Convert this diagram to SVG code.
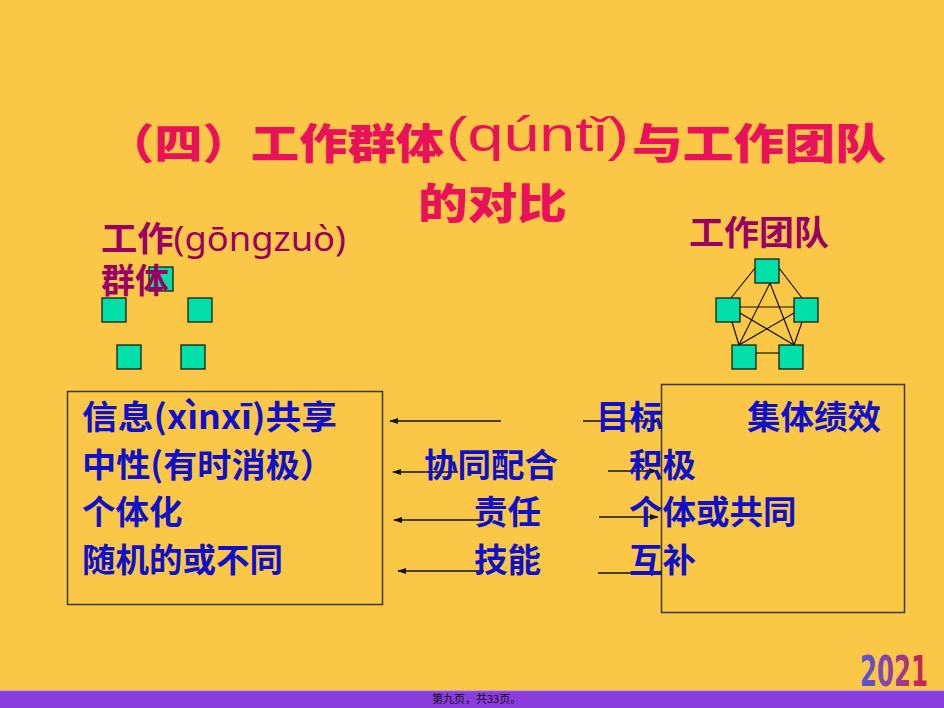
<svg xmlns="http://www.w3.org/2000/svg" width="944" height="708" viewBox="0 0 944 708">
<defs>
<style>
.t{font-family:"Noto Sans CJK SC","Noto Sans",sans-serif;font-weight:900;fill:#E8115A;font-size:42px}
.py{font-family:"Liberation Sans","Noto Sans",sans-serif;font-weight:normal;fill:#E8115A;font-size:48px}
.h{font-family:"Noto Sans CJK SC","Noto Sans",sans-serif;font-weight:600;fill:#990066;font-size:34px}
.hp{font-family:"Noto Sans","Liberation Sans",sans-serif;font-weight:normal;fill:#990066}
.b{font-family:"Noto Sans CJK SC","Noto Sans",sans-serif;font-weight:700;fill:#1010C8;font-size:33.5px}
.sq{fill:#00E0A8;stroke:#1a1a1a;stroke-width:1.3}
.ln{stroke:#111;stroke-width:1.2;fill:none}
.ar{stroke:#111;stroke-width:1.3;fill:none}
.box{fill:none;stroke:#3a3a1a;stroke-width:1.5}
</style>
<marker id="ah" viewBox="0 0 10 10" refX="9" refY="5" markerWidth="9" markerHeight="9" markerUnits="userSpaceOnUse" orient="auto">
<path d="M0,1.5 L10,5 L0,8.5 Z" fill="#111"/>
</marker>
<linearGradient id="yr" x1="0" y1="0" x2="1" y2="0">
<stop offset="0" stop-color="#5058D0"/>
<stop offset="0.5" stop-color="#9040A0"/>
<stop offset="1" stop-color="#D02040"/>
</linearGradient>
</defs>
<rect x="0" y="0" width="944" height="708" fill="#FAC846"/>
<rect x="0" y="691" width="944" height="17" fill="#8A3CDC"/>
<rect x="0" y="690" width="944" height="1.2" fill="#C0A0D0"/>

<g id="title">
<text class="t" x="106" y="159" textLength="338" lengthAdjust="spacingAndGlyphs">（四）工作群体</text>
<text class="py" x="446" y="151" textLength="183" lengthAdjust="spacingAndGlyphs">(qúntǐ)</text>
<text class="t" x="632" y="159" textLength="254" lengthAdjust="spacingAndGlyphs">与工作团队</text>
<text class="t" x="418" y="219" textLength="149" lengthAdjust="spacingAndGlyphs">的对比</text>
</g>

<g id="group-members">
<rect class="sq" x="149" y="267" width="24" height="24"/>
<rect class="sq" x="102" y="298" width="24" height="24"/>
<rect class="sq" x="188" y="298" width="24" height="24"/>
<rect class="sq" x="117" y="345" width="24" height="24"/>
<rect class="sq" x="181" y="345" width="24" height="24"/>
</g>

<g id="group-label">
<text class="h" x="101" y="251" textLength="245" lengthAdjust="spacingAndGlyphs">工作<tspan class="hp">(gōngzuò)</tspan></text>
<text class="h" x="101" y="293">群体</text>
</g>
<g id="team-label">
<text class="h" x="689" y="245" textLength="140" lengthAdjust="spacingAndGlyphs">工作团队</text>
</g>

<g id="connectors">
<g id="team-links">
<line class="ln" x1="755" y1="268" x2="731" y2="298"/>
<line class="ln" x1="779" y1="268" x2="802" y2="298"/>
<line class="ln" x1="770" y1="283" x2="739" y2="345"/>
<line class="ln" x1="770" y1="283" x2="794" y2="345"/>
<line class="ln" x1="740" y1="307" x2="794" y2="307"/>
<line class="ln" x1="740" y1="313" x2="794" y2="345"/>
<line class="ln" x1="794" y1="313" x2="739" y2="345"/>
<line class="ln" x1="732" y1="322" x2="739" y2="345"/>
<line class="ln" x1="802" y1="322" x2="794" y2="345"/>
<line class="ln" x1="756" y1="353" x2="779" y2="353"/>
</g>
<line class="ar" x1="501" y1="421" x2="390" y2="421" marker-end="url(#ah)"/>
<line class="ar" x1="583" y1="421" x2="659" y2="421" marker-end="url(#ah)"/>
<line class="ar" x1="458" y1="472" x2="393" y2="472" marker-end="url(#ah)"/>
<line class="ar" x1="608" y1="471" x2="657" y2="471" marker-end="url(#ah)"/>
<line class="ar" x1="484" y1="520" x2="394" y2="520" marker-end="url(#ah)"/>
<line class="ar" x1="599" y1="517" x2="658" y2="517" marker-end="url(#ah)"/>
<line class="ar" x1="484" y1="571" x2="398" y2="571" marker-end="url(#ah)"/>
<line class="ar" x1="598" y1="573" x2="659" y2="573" marker-end="url(#ah)"/>
</g>

<g id="team-members">
<rect class="sq" x="755" y="259" width="24" height="24"/>
<rect class="sq" x="716" y="298" width="24" height="24"/>
<rect class="sq" x="794" y="298" width="24" height="24"/>
<rect class="sq" x="732" y="345" width="24" height="24"/>
<rect class="sq" x="779" y="345" width="24" height="24"/>
</g>

<g id="group-box">
<rect class="box" x="67.5" y="391.5" width="315" height="213"/>
<text class="b" x="82" y="429" textLength="255" lengthAdjust="spacingAndGlyphs">信息(xìnxī)共享</text>
<text class="b" x="82" y="477" textLength="252" lengthAdjust="spacingAndGlyphs">中性(有时消极）</text>
<text class="b" x="82" y="524">个体化</text>
<text class="b" x="82" y="572">随机的或不同</text>
</g>

<g id="middle-labels">
<text class="b" x="424" y="477">协同配合</text>
<text class="b" x="474" y="524">责任</text>
<text class="b" x="474" y="572">技能</text>
</g>

<g id="team-box">
<rect class="box" x="661.5" y="384.5" width="243" height="228"/>
<text class="b" x="596" y="429">目标</text>
<text class="b" x="747" y="429">集体绩效</text>
<text class="b" x="629" y="477">积极</text>
<text class="b" x="629" y="524">个体或共同</text>
<text class="b" x="629" y="572">互补</text>
</g>

<g id="footer">
<text x="432" y="703" font-family="Noto Sans CJK SC,sans-serif" font-size="11" fill="#111">第九页，共33页。</text>
<text x="860" y="686" font-family="DejaVu Sans Condensed,Liberation Sans,sans-serif" font-weight="bold" font-size="43" fill="url(#yr)" textLength="68" lengthAdjust="spacingAndGlyphs">2021</text>
</g>
</svg>
